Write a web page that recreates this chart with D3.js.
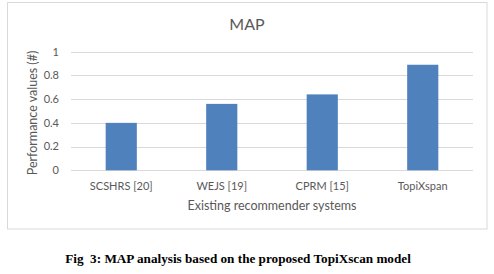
<!DOCTYPE html>
<html>
<head>
<meta charset="utf-8">
<script src="https://cdn.jsdelivr.net/npm/d3@7"></script>
<style>
  body { margin: 0; background: #fff; }
  text { font-family: Lato, "Open Sans", sans-serif; }
</style>
</head>
<body>
<script>
// chart data
var systems = ["SCSHRS [20]", "WEJS [19]", "CPRM [15]", "TopiXspan"];
var mapValues = [0.40, 0.56, 0.64, 0.89];
var yTicks = [0, 0.2, 0.4, 0.6, 0.8, 1];

var W = 494, H = 274;
var margin = {top: 52, right: 21, bottom: 104, left: 71};

var svg = d3.select("body").append("svg")
  .attr("width", W)
  .attr("height", H);

// chart frame
svg.append("rect")
  .attr("x", 7.5).attr("y", 2.5)
  .attr("width", 479.5).attr("height", 226.5)
  .attr("fill", "#fff")
  .attr("stroke", "#d9d9d9")
  .attr("stroke-width", 1);

var x = d3.scaleBand()
  .domain(systems)
  .range([margin.left, W - margin.right])
  .paddingInner(0.69)
  .paddingOuter(0.345);

var y = d3.scaleLinear()
  .domain([0, 1])
  .range([170.3, 51.7]);

// gridlines
svg.append("g")
  .selectAll("line")
  .data(yTicks)
  .enter()
  .append("line")
    .attr("x1", margin.left)
    .attr("x2", W - margin.right)
    .attr("y1", function(d){ return Math.round(y(d)) + 0.5; })
    .attr("y2", function(d){ return Math.round(y(d)) + 0.5; })
    .attr("stroke", "#d9d9d9")
    .attr("stroke-width", 1);

// bars
svg.append("g")
  .selectAll("rect")
  .data(mapValues)
  .enter()
  .append("rect")
    .attr("x", function(d, i){ return x(systems[i]); })
    .attr("y", function(d){ return y(d); })
    .attr("width", x.bandwidth())
    .attr("height", function(d){ return y(0) - y(d); })
    .attr("fill", "#4f81bd");

// y tick labels
svg.append("g")
  .selectAll("text")
  .data(yTicks)
  .enter()
  .append("text")
    .attr("x", 59)
    .attr("y", function(d){ return y(d); })
    .attr("dy", "0.35em")
    .attr("text-anchor", "end")
    .attr("font-size", "11px")
    .attr("fill", "#595959")
    .text(function(d){ return d3.format("~g")(d); });

// x tick labels
svg.append("g")
  .selectAll("text")
  .data(systems)
  .enter()
  .append("text")
    .attr("x", function(d){ return x(d) + x.bandwidth() / 2; })
    .attr("y", 186)
    .attr("dy", "0.35em")
    .attr("text-anchor", "middle")
    .attr("font-size", "11px")
    .attr("fill", "#595959")
    .text(function(d){ return d; });

// axis titles
svg.append("text")
  .attr("x", (margin.left + W - margin.right) / 2)
  .attr("y", 206)
  .attr("dy", "0.35em")
  .attr("text-anchor", "middle")
  .attr("font-size", "12.5px")
  .attr("fill", "#595959")
  .text("Existing recommender systems");

svg.append("text")
  .attr("transform", "translate(33,113) rotate(-90)")
  .attr("dy", "0.35em")
  .attr("text-anchor", "middle")
  .attr("font-size", "12.5px")
  .attr("fill", "#595959")
  .text("Performance values (#)");

// chart title
svg.append("text")
  .attr("x", 247)
  .attr("y", 24)
  .attr("dy", "0.35em")
  .attr("text-anchor", "middle")
  .attr("font-size", "16px")
  .attr("fill", "#595959")
  .text("MAP");

// figure caption
svg.append("text")
  .attr("x", 238)
  .attr("y", 258)
  .attr("dy", "0.35em")
  .attr("text-anchor", "middle")
  .attr("font-size", "13.2px")
  .attr("font-weight", "bold")
  .attr("xml:space", "preserve")
  .style("font-family", "'Liberation Serif', 'DejaVu Serif', serif")
  .attr("fill", "#000")
  .text("Fig  3: MAP analysis based on the proposed TopiXscan model");
</script>
</body>
</html>
